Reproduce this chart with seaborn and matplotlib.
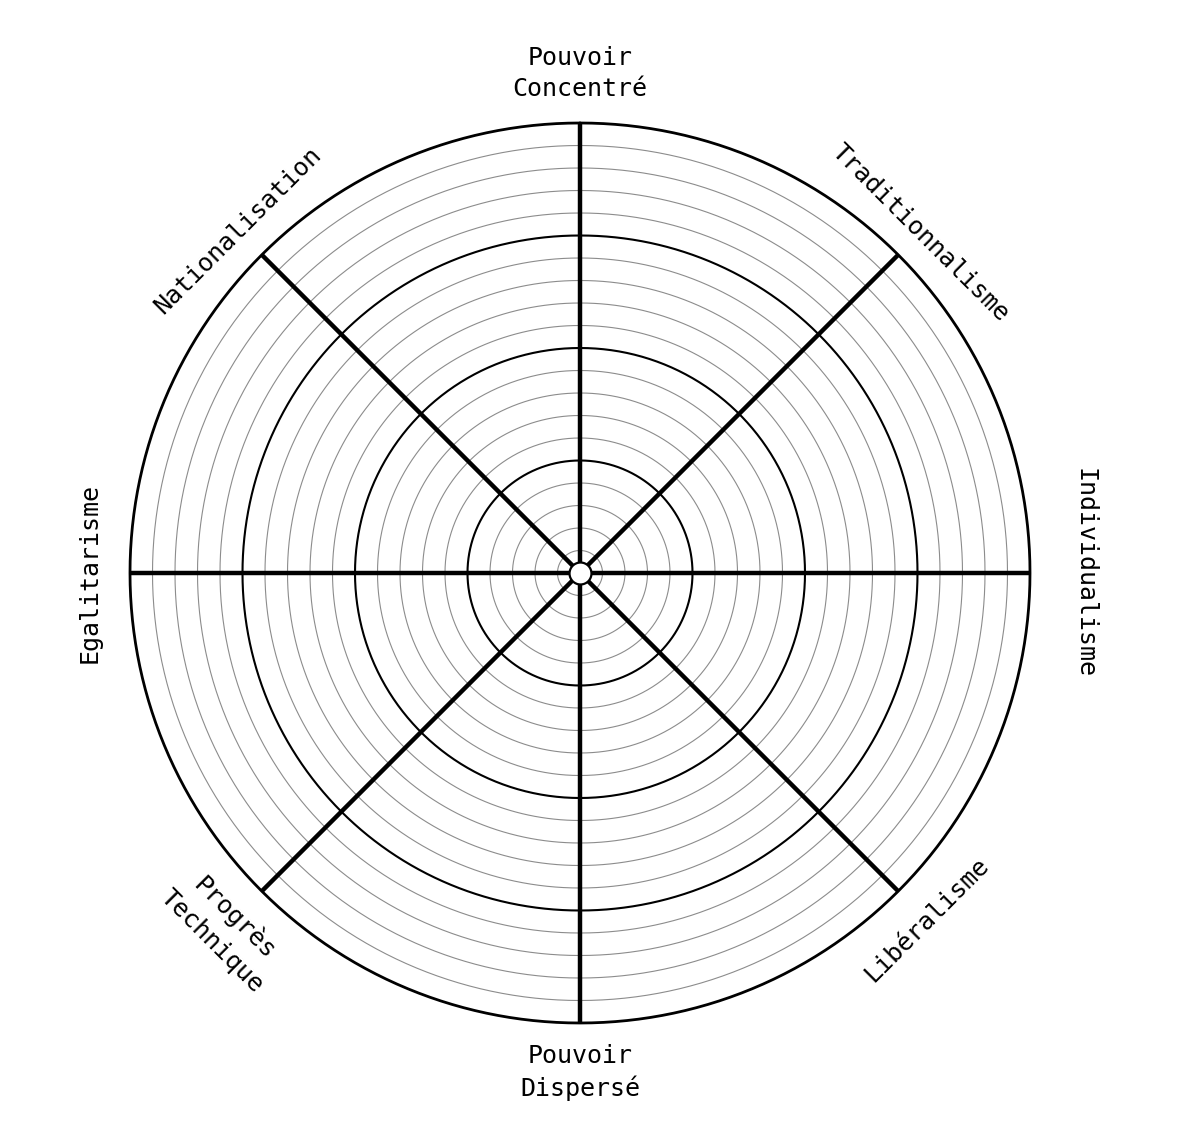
import numpy as np
import pandas as pd
import matplotlib
matplotlib.use("Agg")
import matplotlib.pyplot as plt
import seaborn as sns

# ---- data ----
categories = ["Pouvoir\nConcentré", "Traditionnalisme", "Individualisme", "Libéralisme",
              "Pouvoir\nDispersé", "Progrès\nTechnique", "Egalitarisme", "Nationalisation"]
spoke_angles_deg = [0, 45, 90, 135, 180, 225, 270, 315]
label_radius = [22.2, 21.4, 22.4, 21.8, 22.2, 22.4, 21.8, 21.5]
label_rotation = [0, -45, -90, 45, 0, -45, 90, 45]
minor_rings = [r for r in range(1, 20) if r % 5 != 0]
major_rings = [5, 10, 15]
outer_ring = 20

sns.set_style("white")
plt.rcParams['font.family'] = ['DejaVu Sans Mono', 'DejaVu Sans']

fig = plt.figure(figsize=(11.92, 11.34), dpi=100)
ax = fig.add_axes([130/1192, 111/1134, 900/1192, 900/1134], projection="polar")
ax.set_theta_zero_location("N")
ax.set_theta_direction(-1)
ax.set_ylim(0, outer_ring)
ax.grid(False)
ax.set_xticks([])
ax.set_yticks([])
ax.spines["polar"].set_visible(False)

theta = np.linspace(0, 2 * np.pi, 721)


def ring(r, color, lw):
    df = pd.DataFrame({"t": theta, "r": np.full_like(theta, r, dtype=float)})
    sns.lineplot(data=df, x="t", y="r", ax=ax, color=color, linewidth=lw,
                 sort=False, estimator=None)
    ax.lines[-1].set_clip_on(False)


for r in minor_rings:
    ring(r, "#8c8c8c", 0.8)
for r in major_rings:
    ring(r, "black", 1.5)
ring(outer_ring, "black", 2.0)

for a in spoke_angles_deg:
    t = np.deg2rad(a)
    df = pd.DataFrame({"t": [t, t], "r": [0, outer_ring]})
    sns.lineplot(data=df, x="t", y="r", ax=ax, color="black", linewidth=3.2,
                 sort=False, estimator=None, solid_capstyle="butt")

ax.scatter([0], [0], s=250, facecolor="white", edgecolor="black", linewidth=1.6, zorder=10)

for lab, a, rr, rot in zip(categories, spoke_angles_deg, label_radius, label_rotation):
    ax.text(np.deg2rad(a), rr, lab, ha="center", va="center", rotation=rot,
            rotation_mode="anchor", multialignment="center", fontsize=18,
            linespacing=1.4, color="black")

ax.set_xlabel("")
ax.set_ylabel("")
fig.savefig("out.png", dpi=100, facecolor="white")
